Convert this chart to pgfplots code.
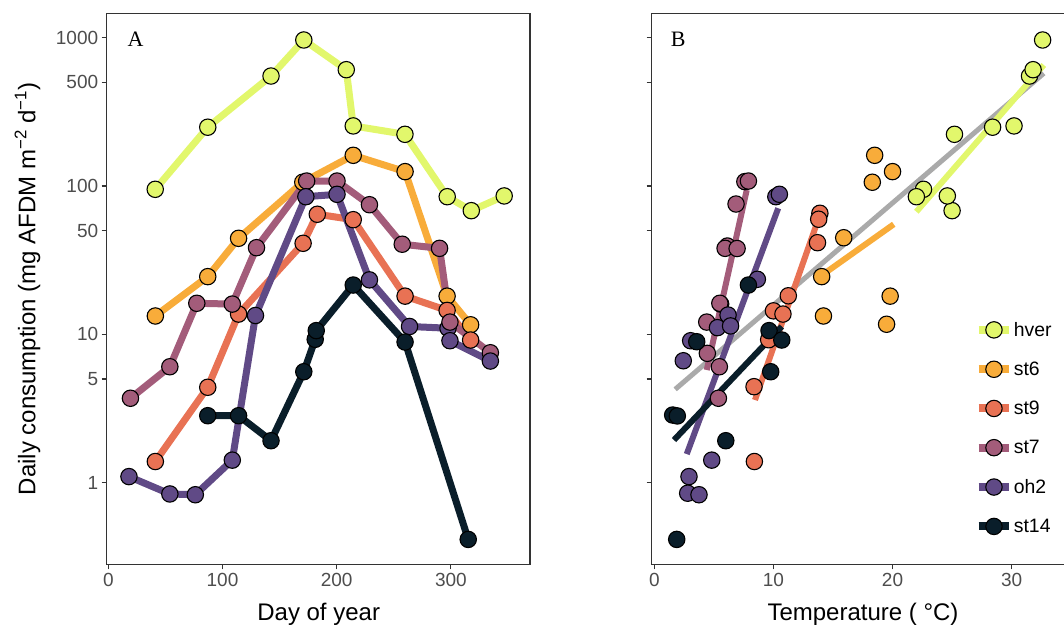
\documentclass[border=0pt]{standalone}
\usepackage{pgfplots}
\pgfplotsset{compat=1.18}
\usepackage{fontspec}
\setmainfont{Liberation Sans}
\newfontfamily\seriffont{Liberation Serif}
\definecolor{chver}{RGB}{226,247,108}
\definecolor{cst6}{RGB}{248,172,58}
\definecolor{cst9}{RGB}{232,114,84}
\definecolor{cst7}{RGB}{163,92,122}
\definecolor{coh2}{RGB}{96,74,134}
\definecolor{cst14}{RGB}{10,30,42}
\definecolor{axgray}{RGB}{51,51,51}
\definecolor{tickgray}{RGB}{77,77,77}
\definecolor{fitgray}{RGB}{170,170,170}
\pgfplotsset{
  myln/.style={color=#1, line width=7pt, line join=round, mark=none},
  myfit/.style={color=#1, line width=6pt, mark=none},
  mymk/.style={only marks, mark=*, mark size=8.2pt, mark options={draw=black, line width=1.1pt, fill=#1}},
  mylg/.style={color=#1, line width=8pt, mark=*, mark size=8.2pt, mark options={draw=black, line width=1.1pt, fill=#1}},
}
\begin{document}
\begin{tikzpicture}
\useasboundingbox (0pt,0pt) rectangle (1064pt,628pt);
% ---------------- Panel A
\begin{axis}[scale only axis, width=423.3pt, height=551pt,
  ymode=log, ymin=0.282, ymax=1459,
  ytick={1,5,10,50,100,500,1000},
  axis line style={draw=axgray, line width=1.1pt},
  tick style={draw=axgray, line width=1.1pt},
  tick align=outside, major tick length=5pt,
  xtick pos=bottom, ytick pos=left,
  ticklabel style={font=\fontsize{19}{22}\selectfont, text=tickgray},
  label style={font=\fontsize{24}{28}\selectfont},
  at={(106.7pt,63.7pt)}, anchor=south west,
  xmin=-1.4, xmax=369.3,
  xtick={0,100,200,300}, xticklabels={0,100,200,300},
  yticklabels={1,5,10,50,100,500,1000},
  xlabel={Day of year},
  ylabel={Daily consumption (mg AFDM m\textsuperscript{−2} d\textsuperscript{−1})},
  xlabel style={at={(axis description cs:0.5008,-0.1011)}, anchor=base},
  ylabel style={at={(axis description cs:-0.1869,0.5)}, anchor=center},
]
\addplot[myln=chver] coordinates {(41.1,95) (87.1,249) (142.5,551) (171.2,964) (208.4,608) (214.5,254) (259.8,223) (296.8,84.7) (317.9,68.2) (346.7,85.7)};
\addplot[myln=cst6] coordinates {(41.2,13.3) (87.1,24.5) (114.1,44.4) (170.3,106) (214.5,161) (259.9,125) (296.7,18.1) (317.3,11.6)};
\addplot[myln=cst9] coordinates {(41.2,1.39) (87.1,4.40) (114.1,13.7) (170.6,41.1) (183,64.5) (214.5,59.3) (259.9,18.1) (296.7,14.5) (317.3,9.16)};
\addplot[myln=cst7] coordinates {(19.4,3.71) (53.9,6.05) (77.5,16.2) (108.6,16.0) (129.8,38.4) (173.7,108) (200.3,108) (228.7,74.8) (257.4,40.5) (290.1,38.0) (299.2,12.1) (334.6,7.52)};
\addplot[myln=coh2] coordinates {(18.1,1.10) (53.9,0.84) (76.2,0.83) (108.6,1.42) (128.9,13.4) (173,84.7) (200.3,87.9) (228.7,23.3) (263.8,11.3) (297.5,11.0) (299.2,9.06) (334.6,6.61)};
\addplot[myln=cst14] coordinates {(87.1,2.83) (114.1,2.83) (142.5,1.92) (171.2,5.60) (181.2,9.26) (182.1,10.6) (214.5,21.5) (259.9,8.88) (315.2,0.415)};
\addplot[mymk=chver] coordinates {(41.1,95) (87.1,249) (142.5,551) (171.2,964) (208.4,608) (214.5,254) (259.8,223) (296.8,84.7) (317.9,68.2) (346.7,85.7)};
\addplot[mymk=cst6] coordinates {(41.2,13.3) (87.1,24.5) (114.1,44.4) (170.3,106) (214.5,161) (259.9,125) (296.7,18.1) (317.3,11.6)};
\addplot[mymk=cst9] coordinates {(41.2,1.39) (87.1,4.40) (114.1,13.7) (170.6,41.1) (183,64.5) (214.5,59.3) (259.9,18.1) (296.7,14.5) (317.3,9.16)};
\addplot[mymk=coh2] coordinates {(297.5,11.0)};
\addplot[mymk=cst7] coordinates {(19.4,3.71) (53.9,6.05) (77.5,16.2) (108.6,16.0) (129.8,38.4) (173.7,108) (200.3,108) (228.7,74.8) (257.4,40.5) (290.1,38.0) (299.2,12.1) (334.6,7.52)};
\addplot[mymk=coh2] coordinates {(18.1,1.10) (53.9,0.84) (76.2,0.83) (108.6,1.42) (128.9,13.4) (173,84.7) (200.3,87.9) (228.7,23.3) (263.8,11.3) (299.2,9.06) (334.6,6.61)};
\addplot[mymk=cst14] coordinates {(87.1,2.83) (114.1,2.83) (142.5,1.92) (171.2,5.60) (181.2,9.26) (182.1,10.6) (214.5,21.5) (259.9,8.88) (315.2,0.415)};
\node[font=\seriffont\fontsize{22}{22}\selectfont] at (axis description cs:0.0683,0.9528) {A};
\end{axis}
% ---------------- Panel B
\begin{axis}[scale only axis, width=423.3pt, height=551pt,
  ymode=log, ymin=0.282, ymax=1459,
  ytick={1,5,10,50,100,500,1000},
  axis line style={draw=axgray, line width=1.1pt},
  tick style={draw=axgray, line width=1.1pt},
  tick align=outside, major tick length=5pt,
  xtick pos=bottom, ytick pos=left,
  ticklabel style={font=\fontsize{19}{22}\selectfont, text=tickgray},
  label style={font=\fontsize{24}{28}\selectfont},
  at={(651.7pt,63.7pt)}, anchor=south west,
  xmin=-0.22, xmax=35.32,
  xtick={0,10,20,30}, xticklabels={0,10,20,30},
  yticklabels={},
  xlabel={Temperature ( °C)},
  xlabel style={at={(axis description cs:0.4992,-0.1011)}, anchor=base},
  legend cell align=left,
  legend style={draw=none, fill=none, at={(axis description cs:0.7625,0.4410)}, anchor=north west,
    font=\fontsize{19.4}{22}\selectfont, row sep=22.8pt, inner sep=0pt,
    nodes={inner sep=0.6pt}},
  legend image code/.code={\draw[mark repeat=2, mark phase=2, #1] plot coordinates {(0pt,0pt) (15.3pt,0pt) (30.6pt,0pt)};},
]
\addlegendimage{mylg=chver}\addlegendentry{hver}
\addlegendimage{mylg=cst6}\addlegendentry{st6}
\addlegendimage{mylg=cst9}\addlegendentry{st9}
\addlegendimage{mylg=cst7}\addlegendentry{st7}
\addlegendimage{mylg=coh2}\addlegendentry{oh2}
\addlegendimage{mylg=cst14}\addlegendentry{st14}
\addplot[myfit=fitgray, line width=5pt, forget plot] coordinates {(1.75,4.26) (32.7,575)};
\addplot[myfit=chver, forget plot] coordinates {(22.0,67.1) (32.7,654)};
\addplot[myfit=cst6, forget plot] coordinates {(14.3,25.8) (20.1,55.2)};
\addplot[myfit=cst9, forget plot] coordinates {(8.45,3.61) (13.6,54.6)};
\addplot[myfit=cst7, forget plot] coordinates {(4.4,5.75) (7.76,94)};
\addplot[myfit=coh2, forget plot] coordinates {(2.72,1.56) (10.4,70.8)};
\addplot[myfit=cst14, forget plot] coordinates {(1.65,1.94) (10.7,11.3)};
\addplot[mymk=chver, forget plot] coordinates {(22.6,95) (28.4,249) (31.5,551) (32.6,964) (31.8,608) (30.2,254) (25.2,223) (22.0,84.7) (25.0,68.2) (24.6,85.7)};
\addplot[mymk=cst6, forget plot] coordinates {(18.5,161) (20.0,125) (18.3,106) (15.9,44.8) (14.05,24.5) (19.8,18.1) (14.2,13.3) (19.5,11.7)};
\addplot[mymk=cst9, forget plot] coordinates {(13.9,65.5) (13.8,59.7) (13.7,41.5) (11.25,18.2) (10.0,14.4) (10.8,13.7) (9.6,9.2) (8.37,4.44) (8.4,1.39)};
\addplot[mymk=cst7, forget plot] coordinates {(7.6,107) (7.9,108) (6.86,75.6) (6.13,39.4) (5.94,38) (6.95,37.9) (5.57,16.0) (5.5,16.2) (4.4,12.1) (4.45,7.45) (5.46,6.05) (5.38,3.71)};
\addplot[mymk=coh2, forget plot] coordinates {(10.2,84.7) (10.5,87.9) (8.65,23.5) (6.19,13.5) (5.3,11.1) (6.4,11.4) (2.43,6.64) (3.05,9.06) (4.82,1.42) (2.91,1.10) (2.8,0.85) (3.75,0.83)};
\addplot[mymk=cst14, forget plot] coordinates {(7.9,21.5) (3.56,8.92) (9.63,10.6) (10.7,9.16) (9.77,5.6) (1.54,2.86) (1.93,2.82) (6.0,1.92) (1.88,0.415)};
\node[font=\seriffont\fontsize{22}{22}\selectfont] at (axis description cs:0.0628,0.9528) {B};
\end{axis}
\end{tikzpicture}
\end{document}
